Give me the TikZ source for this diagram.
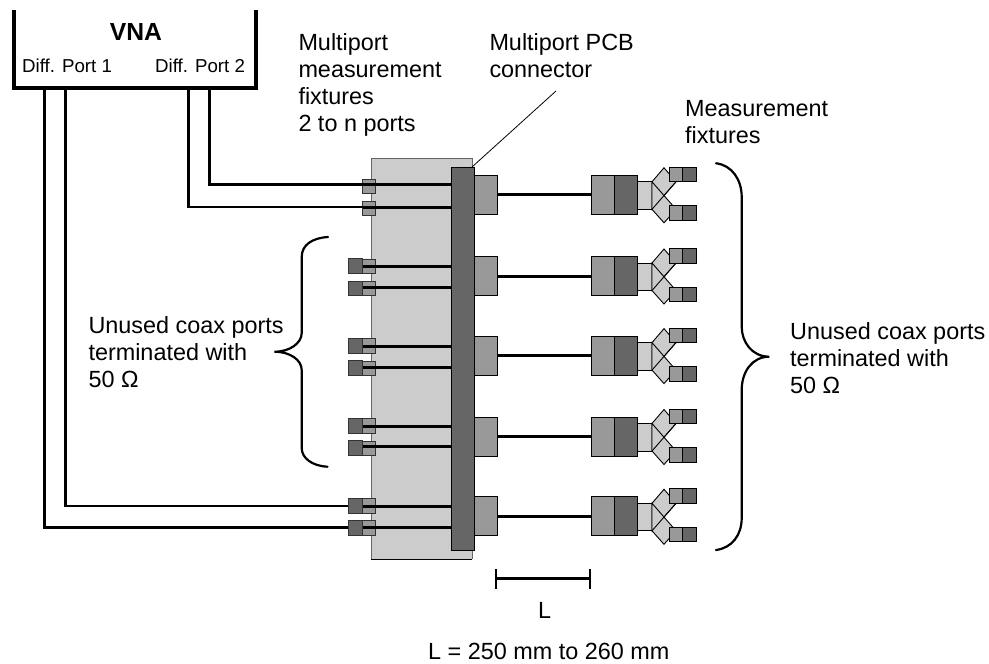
\documentclass[tikz,border=0pt]{standalone}
\usepackage{fontspec}
\setmainfont{Liberation Sans}
\tikzset{
  lbl/.style={font=\fontsize{23.4}{27}\selectfont,align=left,anchor=north west,inner sep=0pt},
  single/.style={font=\fontsize{23.4}{27}\selectfont,anchor=base west,inner sep=0pt},
  portlbl/.style={font=\fontsize{18.7}{22}\selectfont,inner sep=0pt,anchor=base west},
  blk/.style={draw=black,line width=0.9pt},
  midg/.style={blk,fill=black!40},
  darkg/.style={blk,fill=black!60},
  lightg/.style={blk,fill=black!20},
  coax/.style={draw=black,line width=3pt},
  cable/.style={draw=black,line width=2.8pt},
  brace/.style={draw=black,line width=2.2pt,line cap=round}
}
\begin{document}
\begin{tikzpicture}[x=1pt,y=-1pt]
\useasboundingbox (0,0) rectangle (989,664);
% panel
\path[draw=black!60,line width=1pt,fill=black!20] (371,559) -- (371,158.7) -- (472,158.7) -- (472,559);
\draw[black,line width=1pt] (371,559) -- (472,559);
% left connectors
\foreach \a/\c/\k in {184.7/186.2/0,207/208.4/0,266/266.2/1,287.5/288.4/1,346/346/1,367.3/368.2/1,426/425.8/1,446.7/448.2/1,506/505.9/1,527.5/527.9/1}{
  \fill[black!40,draw=black!80,line width=0.8pt] (362.5,\c-7.3) rectangle (375.8,\c+7.3);
  \ifnum\k=1
   \fill[black!60,draw=black!80,line width=0.9pt] (348.4,\c-7.3) rectangle (362.5,\c+7.3);
  \fi
  \draw[coax] (362.5,\a) -- (452,\a);
}
% bar
\path[darkg] (451.7,167.3) rectangle (474.7,550);
% right rows
\foreach \y in {194.8,276,355.6,436.5,516.3}{
  \path[midg] (474.7,\y-19.5) rectangle (497.3,\y+19.5);
  \draw[coax] (497.3,\y) -- (591.7,\y);
  \path[midg] (591.7,\y-19.5) rectangle (614.3,\y+19.5);
  \path[darkg] (614.3,\y-19.5) rectangle (637,\y+19.5);
  \path[lightg] (637,\y-13) rectangle (652,\y+14.5);
  \path[lightg] (652,\y-13) -- (664,\y-27) -- (676,\y-13) -- (652,\y+14.5) -- cycle;
  \path[lightg] (652,\y-13) -- (676,\y+14.5) -- (664,\y+28) -- (652,\y+14.5) -- cycle;
  \draw[black,line width=0.9pt] (676,\y-13) -- (652,\y+14.5);
  \path[midg] (669.3,\y-27.5) rectangle (682.7,\y-13);
  \path[darkg] (682.7,\y-27.5) rectangle (696.7,\y-13);
  \path[midg] (669.3,\y+11) rectangle (682.7,\y+25.5);
  \path[darkg] (682.7,\y+11) rectangle (696.7,\y+25.5);
}
% VNA
\node[portlbl] (p1) at (22,72.7) {Diff. Port 1};
\node[portlbl] (p2) at (155,72.7) {Diff. Port 2};
\node[font=\bfseries\fontsize{24.7}{28}\selectfont,inner sep=0pt,anchor=base] (vna) at (136,40) {VNA};
\draw[black,line width=4.4pt,line cap=butt,line join=miter] (14,10) -- (14,88) -- (256,88) -- (256,10);
% cables
\draw[cable] (44.7,88) -- (44.7,527.5) -- (348.4,527.5);
\draw[cable] (65.3,88) -- (65.3,506) -- (348.4,506);
\draw[cable] (188.3,88) -- (188.3,207) -- (362.5,207);
\draw[cable] (209.3,88) -- (209.3,184.7) -- (362.5,184.7);
% leader
\draw[black,line width=0.8pt] (472,167) -- (556,91);
% braces
\draw[brace] (328,237) .. controls (312,238) and (301.7,245) .. (301.7,257) -- (301.7,333) .. controls (301.7,343) and (290,351.7) .. (274.5,351.7) .. controls (290,351.7) and (301.7,360) .. (301.7,370) -- (301.7,448) .. controls (301.7,458) and (312,466) .. (327.5,466.7);
\draw[brace] (716,163.3) .. controls (732,165) and (741.7,180) .. (741.7,196.7) -- (741.7,326.7) .. controls (741.7,342) and (752,356.7) .. (769.3,356.7) .. controls (752,356.7) and (741.7,372) .. (741.7,390) -- (741.7,518) .. controls (741.7,535) and (732,548) .. (716,550);
% labels
\node[lbl] (a) at (298.3,33.7) {Multiport\\measurement\\fixtures\\2 to n ports};
\node[lbl] (b) at (489.3,33.7) {Multiport PCB\\connector};
\node[lbl] (c) at (685,100.3) {Measurement\\fixtures};
\node[lbl] (d) at (88.3,316) {Unused coax ports\\terminated with\\50 Ω};
\node[lbl] (e) at (790,322.3) {Unused coax ports\\terminated with\\50 Ω};
% L
\draw[black,line width=2.3pt] (496,569) -- (496,589) (496,578.5) -- (590,578.5) (590,569) -- (590,589);
\node[single] (l) at (538,618.3) {L};
\node[single] (l2) at (428,659.3) {L = 250 mm to 260 mm};
\end{tikzpicture}
\end{document}
